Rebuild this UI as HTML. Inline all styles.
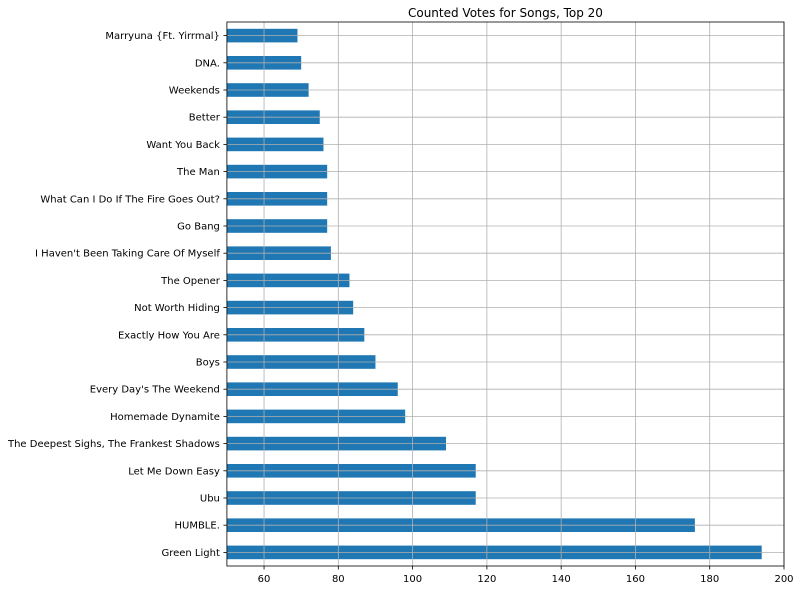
<!DOCTYPE html>
<html><head><meta charset="utf-8"><style>
body{margin:0;background:#fff;}
svg{display:block;font-family:"DejaVu Sans","Liberation Sans",sans-serif;}
</style></head><body>
<svg id="chart" width="801" height="590"></svg>
<script>
const categories=["Green Light","HUMBLE.","Ubu","Let Me Down Easy","The Deepest Sighs, The Frankest Shadows","Homemade Dynamite","Every Day's The Weekend","Boys","Exactly How You Are","Not Worth Hiding","The Opener","I Haven't Been Taking Care Of Myself","Go Bang","What Can I Do If The Fire Goes Out?","The Man","Want You Back","Better","Weekends","DNA.","Marryuna {Ft. Yirrmal}"];
const votes=[194,176,117,117,109,98,96,90,87,84,83,78,77,77,77,76,75,72,70,69];
const xTicks=[60,80,100,120,140,160,180,200];
const xMin=50,xMax=200;
const L=226.9,R=784,T=22,B=566;
const NS="http://www.w3.org/2000/svg";
const svg=document.getElementById('chart');
function x(v){return L+(v-xMin)/(xMax-xMin)*(R-L);}
const step=(B-T)/categories.length;
function yc(i){return B-step*(i+0.5);}
function mk(t,a,p){const e=document.createElementNS(NS,t);for(const k in a)e.setAttribute(k,a[k]);(p||svg).appendChild(e);return e;}
const clip=mk('clipPath',{id:'pc'});mk('rect',{x:L,y:T,width:R-L,height:B-T},clip);
const bars=mk('g',{'clip-path':'url(#pc)'});
votes.forEach((v,i)=>{
  const r=mk('rect',{x:x(0),y:yc(i)-step*0.25,width:x(v)-x(0),height:step*0.5,fill:'#1f77b4'},bars);
  
  
});
xTicks.forEach(t=>{
  const gx=x(t);
  const g=mk('line',{x1:gx,x2:gx,y1:T,y2:B,stroke:'#b0b0b0','stroke-width':0.8});
  
  
  mk('line',{x1:gx,x2:gx,y1:B,y2:B+3.5,stroke:'#000','stroke-width':0.8});
  const tx=mk('text',{x:gx,y:B+16,'font-size':10,'text-anchor':'middle'});
  tx.textContent=t;
  
  
});
categories.forEach((c,i)=>{
  const y=yc(i);
  const g=mk('line',{x1:L,x2:R,y1:y,y2:y,stroke:'#b0b0b0','stroke-width':0.8});
  
  
  mk('line',{x1:L-3.5,x2:L,y1:y,y2:y,stroke:'#000','stroke-width':0.8});
  const tx=mk('text',{x:L-7,y:y+3.5,'font-size':10,'text-anchor':'end'});
  tx.textContent=c;
  
  
});
const fr=mk('rect',{x:L,y:T,width:R-L,height:B-T,fill:'none',stroke:'#000','stroke-width':0.8});


const ti=mk('text',{x:(L+R)/2,y:T-5,'font-size':12,'text-anchor':'middle'});
ti.textContent='Counted Votes for Songs, Top 20';


</script>
</body></html>
